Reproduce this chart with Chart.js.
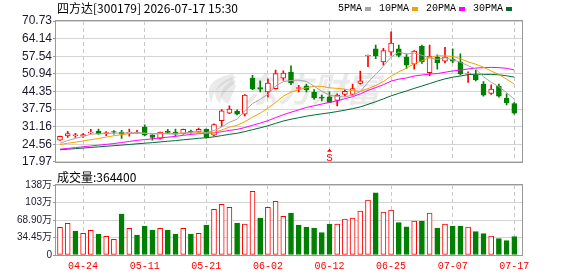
<!DOCTYPE html>
<html>
<head>
<meta charset="utf-8">
<script src="https://cdn.jsdelivr.net/npm/chart.js@4.4.1/dist/chart.umd.min.js"></script>
<style>
  html, body { margin: 0; padding: 0; background: #fff; }
  #wrap { position: relative; width: 578px; height: 276px; overflow: hidden; font-family: "Noto Sans CJK SC", sans-serif; }
  #kline { position: absolute; left: 0; top: 0; }
  #vol { position: absolute; left: 0; top: 170px; }
  .txt { position: absolute; white-space: nowrap; color: #000; }
  #title { left: 57px; top: 0px; font-size: 12px; line-height: 15px; }
  #volTitle { left: 57px; top: 169px; font-size: 12px; line-height: 15px; }
  #legend { left: 338px; top: 1px; font: 10px "Liberation Mono", monospace; line-height: 15px; display: flex; align-items: center; }
  #legend i { display: inline-block; width: 6px; height: 4px; margin: 0 8px 0 3px; }
</style>
</head>
<body>
<div id="wrap">
  <canvas id="kline" width="578" height="170"></canvas>
  <canvas id="vol" width="578" height="106"></canvas>
  <div class="txt" id="title"></div>
  <div class="txt" id="legend"></div>
  <div class="txt" id="volTitle"></div>
</div>
<script>
// 股票信息
var stockTitle = '四方达[300179] 2026-07-17 15:30';

// 交易日
var dates = ['04-21','04-22','04-23','04-24','04-27','04-28','04-29','04-30','05-06','05-07',
  '05-08','05-11','05-12','05-13','05-14','05-15','05-18','05-19','05-20','05-21',
  '05-22','05-25','05-26','05-27','05-28','05-29','06-01','06-02','06-03','06-04',
  '06-05','06-08','06-09','06-10','06-11','06-12','06-15','06-16','06-17','06-18',
  '06-22','06-23','06-24','06-25','06-26','06-29','06-30','07-01','07-02','07-03',
  '07-06','07-07','07-08','07-09','07-10','07-13','07-14','07-15','07-16','07-17'];

// K线 开 高 低 收
var openP = [26.09,27.68,27.80,27.68,28.90,29.51,28.54,29.27,29.15,28.66,
  28.78,30.98,27.92,26.70,29.40,29.15,28.54,29.51,29.27,30.12,
  27.92,33.42,36.23,36.84,35.86,49.30,45.75,44.16,45.39,49.29,
  51.49,45.51,46.48,44.04,42.09,42.33,40.99,43.19,43.19,47.34,
  57.60,60.28,55.40,59.06,60.28,57.23,54.54,61.26,51.37,57.23,
  55.64,56.37,55.40,50.80,50.51,47.10,43.55,46.24,41.72,39.77];
var highP = [27.60,29.39,28.66,28.54,30.10,30.24,29.27,29.63,29.76,30.24,
  29.76,31.83,28.30,29.15,30.12,30.24,30.24,29.88,30.61,30.37,
  32.20,37.57,38.91,37.45,43.19,50.40,48.32,48.93,52.35,52.10,
  53.93,46.61,47.10,45.02,42.94,44.16,43.43,45.02,47.10,51.98,
  57.98,61.75,60.52,66.63,61.75,58.45,59.67,61.75,61.75,58.08,
  60.89,60.28,58.45,51.73,52.35,48.07,46.85,47.10,43.43,40.13];
var lowP = [26.00,27.07,27.07,27.07,28.54,28.30,27.80,28.30,26.70,27.56,
  28.54,27.80,26.09,26.46,28.54,27.56,28.30,28.66,29.03,26.83,
  27.68,31.22,35.98,35.49,35.13,45.02,44.16,42.21,45.26,48.44,
  46.85,44.16,44.16,41.36,40.74,40.13,38.91,42.58,42.94,47.10,
  53.57,56.62,54.18,57.84,57.23,52.96,52.71,54.79,50.27,52.71,
  55.03,55.15,50.51,47.70,48.32,42.58,43.19,42.21,39.28,35.86];
var closeP = [27.56,28.54,28.05,28.17,29.15,28.41,28.90,29.03,28.30,29.15,
  29.10,27.92,27.07,29.10,29.00,28.30,30.12,29.03,30.12,27.07,
  31.95,37.08,37.69,35.86,42.94,45.26,45.14,47.46,51.00,51.20,
  47.46,45.75,45.02,41.97,41.84,40.26,42.94,44.41,45.39,48.32,
  57.98,57.60,59.67,62.48,57.84,54.18,59.43,55.40,57.60,55.03,
  57.23,55.64,50.95,51.05,48.68,42.94,45.26,42.58,40.01,36.23];

// 成交量（万股）
var volume = [54.5,62.4,47.3,42.7,48.6,41.3,36.8,30.9,80.7,52.5,
  39.4,57.1,49.2,52.5,49.2,41.3,52.5,41.3,42.7,59.1,
  90.0,99.8,93.9,63.0,61.0,125.4,72.8,93.9,105.7,76.2,
  82.7,59.1,55.1,53.2,44.0,61.0,61.0,70.9,72.8,86.6,
  108.3,122.6,84.7,88.6,63.6,55.7,66.9,66.9,82.7,53.2,
  61.0,57.1,57.1,55.1,45.9,42.0,37.4,32.1,28.2,36.44];

// 均线
var ma5 = [24.91,25.92,26.73,27.46,28.29,28.46,28.54,28.73,28.76,28.76,
  28.90,28.70,28.31,28.47,28.44,28.28,28.72,29.11,29.31,28.93,
  29.66,31.05,32.78,33.93,37.10,39.77,41.38,43.33,46.36,48.01,
  48.45,48.57,48.09,46.28,44.41,42.97,42.41,42.28,42.97,44.26,
  47.81,50.74,53.79,57.21,59.11,58.35,58.72,57.87,56.89,56.33,
  56.94,56.18,55.29,53.98,52.71,49.85,47.78,46.10,43.89,41.40];
var ma10 = [24.43,24.93,25.33,25.75,26.26,26.70,27.24,27.74,28.12,28.53,
  28.68,28.62,28.52,28.61,28.60,28.59,28.71,28.71,28.89,28.68,
  28.97,29.88,30.95,31.62,33.02,34.71,36.21,38.06,40.15,42.56,
  44.11,44.98,45.71,46.32,46.21,45.71,45.49,45.19,44.62,44.34,
  45.39,46.57,48.04,50.09,51.69,53.08,54.73,55.83,57.05,57.72,
  57.65,57.45,56.58,55.44,54.52,53.40,51.98,50.70,48.94,47.06];
var ma20 = [22.70,23.00,23.30,23.60,23.90,24.20,24.50,24.80,25.20,25.60,
  26.00,26.30,26.60,26.90,27.20,27.50,27.90,28.20,28.50,28.60,
  28.82,29.25,29.73,30.12,30.81,31.65,32.46,33.38,34.52,35.62,
  36.54,37.43,38.33,38.97,39.61,40.21,40.85,41.62,42.38,43.45,
  44.75,45.77,46.87,48.20,48.95,49.40,50.11,50.51,50.84,51.03,
  51.52,52.01,52.31,52.76,53.10,53.24,53.35,53.26,52.99,52.39];
var ma30 = [22.48,22.70,22.90,23.11,23.35,23.56,23.79,24.02,24.23,24.47,
  24.71,24.94,25.14,25.41,25.68,25.92,26.22,26.49,26.79,26.99,
  27.32,27.79,28.26,28.66,29.29,30.00,30.70,31.48,32.37,33.26,
  33.92,34.49,35.06,35.52,35.94,36.34,36.80,37.32,37.89,38.53,
  39.49,40.48,41.56,42.68,43.64,44.50,45.48,46.36,47.27,48.21,
  49.05,49.67,50.11,50.61,50.81,50.73,50.73,50.57,50.20,49.70];

var maNames = ['5PMA', '10PMA', '20PMA', '30PMA'];
var maColors = ['#a6a6a6', '#f2a200', '#ff00ff', '#006b35'];

// 坐标轴刻度
var priceTicks = [17.97, 24.56, 31.16, 37.75, 44.35, 50.94, 57.54, 64.14, 70.73];
var volTicks = [0, 34.45, 68.90, 103.35, 137.80];
var volTickLabels = ['0', '34.45万', '68.90万', '103万', '138万'];
var signalDate = '06-12';

var RED = '#ff0000';
var GREEN = '#008000';

var allMa = [ma5, ma10, ma20, ma30];
var dateTicks = dates.map(function(d, i) { return i; }).filter(function(i) { return i % 8 === 3; });

function candleUp(i) { return closeP[i] >= openP[i]; }
function volUp(i) { return i === 0 ? candleUp(0) : closeP[i] >= closeP[i - 1]; }

document.getElementById('title').textContent = stockTitle;
document.getElementById('volTitle').textContent = '成交量:' + Math.round(volume[volume.length - 1] * 10000);
document.getElementById('legend').innerHTML = maNames.map(function(n, k) {
  return '<span>' + n + '</span><i style="background:' + maColors[k] + '"></i>';
}).join('');

var framePlugin = {
  id: 'frame',
  afterDraw: function(chart) {
    var a = chart.chartArea, ctx = chart.ctx;
    ctx.save();
    ctx.strokeStyle = '#999';
    ctx.lineWidth = 1;
    ctx.strokeRect(Math.round(a.left) - 0.5, Math.round(a.top) - 0.5,
      Math.round(a.right - a.left) + 1, Math.round(a.bottom - a.top) + 1);
    ctx.restore();
  }
};

var watermarkPlugin = {
  id: 'watermark',
  beforeDatasetsDraw: function(chart) {
    var ctx = chart.ctx;
    ctx.save();
    ctx.fillStyle = 'rgba(170,170,170,0.25)';
    for (var k = 0; k < 3; k++) {
      ctx.beginPath();
      ctx.moveTo(232, 74 + k * 3);
      ctx.quadraticCurveTo(200 + k * 6, 80 + k * 8, 212 + k * 8, 104);
      ctx.quadraticCurveTo(210 + k * 10, 88 + k * 6, 236, 78 + k * 4);
      ctx.fill();
    }
    ctx.font = 'italic bold 34px "Noto Sans CJK SC"';
    ctx.textBaseline = 'middle';
    ctx.fillText('东方财富', 244, 89);
    ctx.restore();
  }
};

var signalPlugin = {
  id: 'signal',
  afterDatasetsDraw: function(chart) {
    var i = dates.indexOf(signalDate);
    var x = chart.scales.x.getPixelForValue(i);
    var b = chart.chartArea.bottom;
    var ctx = chart.ctx;
    ctx.save();
    ctx.fillStyle = RED;
    ctx.beginPath();
    ctx.moveTo(x, b - 13);
    ctx.lineTo(x - 2.5, b - 10);
    ctx.lineTo(x + 2.5, b - 10);
    ctx.fill();
    ctx.font = '11px "Liberation Mono"';
    ctx.textAlign = 'center';
    ctx.textBaseline = 'alphabetic';
    ctx.fillText('S', x, b - 1);
    ctx.restore();
  }
};

function xScale(showLabels) {
  return {
    type: 'linear',
    min: -0.52,
    max: 60,
    offset: false,
    afterBuildTicks: function(scale) {
      scale.ticks = dateTicks.map(function(v) { return { value: v }; });
    },
    afterFit: function(scale) { scale.height = showLabels ? 21 : 0; },
    grid: { color: '#c8c8c8', drawTicks: false, offset: false },
    border: { display: false, dash: [4, 3] },
    ticks: {
      display: showLabels,
      autoSkip: false,
      maxRotation: 0,
      padding: 5,
      color: RED,
      font: { family: '"Liberation Mono"', size: 10 },
      callback: function(v) { return dates[v]; }
    }
  };
}

var common = {
  responsive: false,
  animation: false,
  events: [],
  plugins: { legend: { display: false }, tooltip: { enabled: false } }
};

new Chart(document.getElementById('kline'), {
  type: 'bar',
  data: {
    datasets: allMa.map(function(arr, k) {
      return {
        type: 'line',
        label: maNames[k],
        data: arr.map(function(v, i) { return { x: i, y: v }; }),
        borderColor: maColors[k],
        borderWidth: 1,
        pointRadius: 0,
        tension: 0,
        order: 0
      };
    }).concat([{
      label: 'body',
      data: dates.map(function(d, i) { return { x: i, y: [openP[i], closeP[i]] }; }),
      backgroundColor: dates.map(function(d, i) { return candleUp(i) ? '#fff' : GREEN; }),
      borderColor: dates.map(function(d, i) { return candleUp(i) ? RED : GREEN; }),
      borderWidth: 1,
      borderSkipped: false,
      barThickness: 5,
      grouped: false,
      order: 1
    }, {
      label: 'wick',
      data: dates.map(function(d, i) { return { x: i, y: [lowP[i], highP[i]] }; }),
      backgroundColor: dates.map(function(d, i) { return candleUp(i) ? RED : GREEN; }),
      borderWidth: 0,
      barThickness: 1,
      grouped: false,
      order: 2
    }])
  },
  options: Object.assign({}, common, {
    layout: { padding: { left: 0, right: 56, top: 21, bottom: 5 } },
    scales: {
      x: xScale(false),
      y: {
        min: priceTicks[0],
        max: priceTicks[priceTicks.length - 1],
        afterBuildTicks: function(scale) {
          scale.ticks = priceTicks.map(function(v) { return { value: v }; });
        },
        afterFit: function(scale) { scale.width = 56; },
        grid: { color: '#d4d4d4', tickColor: '#999', tickLength: 3 },
        border: { display: false },
        ticks: {
          padding: 1,
          color: '#1a1a2e',
          font: { family: '"Liberation Sans"', size: 12 },
          callback: function(v) { return Number(v).toFixed(2); }
        }
      }
    }
  }),
  plugins: [watermarkPlugin, signalPlugin, framePlugin]
});

new Chart(document.getElementById('vol'), {
  type: 'bar',
  data: {
    datasets: [{
      label: '成交量',
      data: volume.map(function(v, i) { return { x: i, y: v }; }),
      backgroundColor: volume.map(function(v, i) { return volUp(i) ? '#fff' : GREEN; }),
      borderColor: volume.map(function(v, i) { return volUp(i) ? RED : GREEN; }),
      borderWidth: 1,
      borderSkipped: false,
      barThickness: 5,
      grouped: false
    }]
  },
  options: Object.assign({}, common, {
    layout: { padding: { left: 0, right: 56, top: 15, bottom: 0 } },
    scales: {
      x: xScale(true),
      y: {
        min: 0,
        max: volTicks[volTicks.length - 1],
        afterBuildTicks: function(scale) {
          scale.ticks = volTicks.map(function(v) { return { value: v }; });
        },
        afterFit: function(scale) { scale.width = 56; },
        grid: { color: '#d4d4d4', tickColor: '#999', tickLength: 3 },
        border: { display: false },
        ticks: {
          padding: 1,
          color: '#1a1a2e',
          font: { family: '"Liberation Sans", "Noto Sans CJK SC"', size: 10 },
          callback: function(v, i) { return volTickLabels[i]; }
        }
      }
    }
  }),
  plugins: [framePlugin]
});
</script>
</body>
</html>
